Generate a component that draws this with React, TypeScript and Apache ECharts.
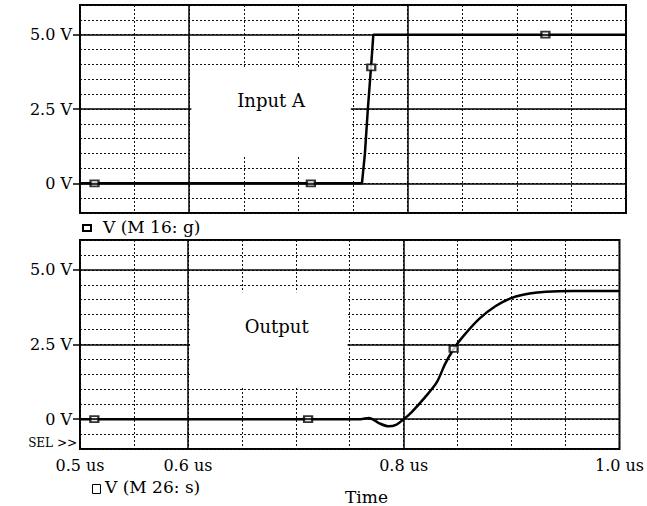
import React, { useEffect, useRef } from 'react';
import * as echarts from 'echarts';

const FONT = '"DejaVu Serif", "Liberation Serif", serif';

// axis tick labels
const xTickLabels = [0.5, 0.6, 0.8, 1.0];
const yTickLabels = [0, 2.5, 5.0];
const solidXLines = [0.6, 0.8];

// Input A trace (time in us, volts)
const inputT = [0.5, 0.7582, 0.7609, 0.7636, 0.7667, 0.7686, 1.0];
const inputV = [0, 0, 1.0, 2.5, 4.0, 5.0, 5.0];
const inputMarkT = [0.5133, 0.7114, 0.7667, 0.9262];
const inputMarkV = [0, 0, 3.9, 5.0];

// Output trace
const outputT = [0.5, 0.76, 0.7678, 0.7769, 0.7859, 0.7934, 0.8, 0.8072, 0.8197, 0.8306, 0.8384, 0.8463, 0.8541, 0.8697, 0.8853, 0.9009, 0.9166, 0.9321, 0.957, 1.0];
const outputV = [0, 0, 0.04, -0.13, -0.24, -0.18, 0, 0.23, 0.73, 1.23, 1.85, 2.35, 2.73, 3.35, 3.79, 4.07, 4.21, 4.27, 4.29, 4.29];
const outputMarkT = [0.5133, 0.7114, 0.8463];
const outputMarkV = [0, 0, 2.35];

// panel captions and their white boxes [t0, v0, t1, v1]
const panelTitles = ['Input A', 'Output'];
const boxInput = [0.602, 0.9, 0.748, 3.9];
const boxOutput = [0.602, 1.05, 0.748, 4.25];
const legendLabels = ['V (M 16: g)', 'V (M 26: s)'];

const zip = (a: number[], b: number[]) => a.map((v, i) => [v, b[i]]);
const near = (arr: number[], v: number) => arr.some((t) => Math.abs(t - v) < 1e-6);

export default function App() {
  const ref = useRef<HTMLDivElement>(null);
  useEffect(() => {
    if (!ref.current) return;
    const chart = echarts.init(ref.current, undefined, { renderer: 'svg' });
    const dotted = { show: true, lineStyle: { color: '#111', width: 1, type: [2, 2] as any } };
    const gridBase = { left: 80, width: 546, show: true, borderColor: '#000', borderWidth: 2, backgroundColor: 'transparent' };
    const xAxis = (gi: number, labels: boolean) => ({
      type: 'value', gridIndex: gi, min: 0.5, max: 1.0, interval: 0.05,
      axisLine: { show: false }, axisTick: { show: false },
      axisLabel: labels
        ? {
            show: true, customValues: xTickLabels, margin: 8, color: '#000', fontFamily: FONT, fontSize: 16,
            formatter: (v: number) => (near(xTickLabels, v) ? v.toFixed(1) + ' us' : ''),
          }
        : { show: false },
      splitLine: dotted,
    });
    // grid-line axis (dotted every 0.5 V)
    const yGridAxis = (gi: number) => ({
      type: 'value', gridIndex: gi, min: -1, max: 6, interval: 0.5, position: 'left',
      axisLine: { show: false }, axisTick: { show: false }, axisLabel: { show: false },
      splitLine: dotted,
    });
    // label axis (ticks and labels at 0, 2.5, 5 V)
    const yLabelAxis = (gi: number) => ({
      type: 'value', gridIndex: gi, min: -1, max: 6, position: 'left', offset: 0,
      axisLine: { show: false },
      axisTick: { show: true, customValues: yTickLabels, length: 7, lineStyle: { color: '#000', width: 1.5 } },
      axisLabel: {
        customValues: yTickLabels, margin: 8, color: '#000', fontFamily: FONT, fontSize: 16,
        formatter: (v: number) => (near(yTickLabels, v) ? (v === 0 ? '0 V' : v.toFixed(1) + ' V') : ''),
      },
      splitLine: { show: false },
    });
    const markLine = {
      silent: true, symbol: ['none', 'none'], label: { show: false },
      lineStyle: { type: 'solid', color: '#000', width: 1.5 },
      emphasis: { disabled: true },
      data: [...yTickLabels.map((v) => ({ yAxis: v })), ...solidXLines.map((v) => ({ xAxis: v }))],
    };
    const boxSeries = (gi: number, box: number[], title: string, fx: number, fy: number) => ({
      type: 'custom', xAxisIndex: gi, yAxisIndex: gi * 2, z: 10, silent: true,
      encode: { x: [0, 2], y: [1, 3] },
      data: [box],
      renderItem: (params: any, api: any) => {
        const p0 = api.coord([api.value(0), api.value(3)]);
        const p1 = api.coord([api.value(2), api.value(1)]);
        const w = p1[0] - p0[0];
        const h = p1[1] - p0[1];
        return {
          type: 'group',
          children: [
            { type: 'rect', shape: { x: p0[0], y: p0[1], width: w, height: h }, style: { fill: '#fff' } },
            {
              type: 'text',
              style: {
                text: title, x: p0[0] + w * fx, y: p0[1] + h * fy, align: 'center', verticalAlign: 'middle',
                fill: '#000', fontFamily: FONT, fontSize: 18,
              },
            },
          ],
        };
      },
    });
    const lineSeries = (gi: number, data: number[][], smooth: any) => ({
      type: 'line', xAxisIndex: gi, yAxisIndex: gi * 2, data, showSymbol: false, symbol: 'none', smooth,
      lineStyle: { color: '#000', width: 2.5 }, z: 3, markLine,
    });
    const markSeries = (gi: number, data: number[][]) => ({
      type: 'scatter', xAxisIndex: gi, yAxisIndex: gi * 2, data, symbol: 'rect', symbolSize: [8, 6], z: 4,
      itemStyle: { color: '#fff', borderColor: '#000', borderWidth: 2 },
    });
    chart.setOption({
      animation: false,
      backgroundColor: '#fff',
      grid: [
        { ...gridBase, top: 5, height: 208 },
        { ...gridBase, top: 240, height: 209 },
      ],
      xAxis: [xAxis(0, false), xAxis(1, true)],
      yAxis: [yGridAxis(0), yLabelAxis(0), yGridAxis(1), yLabelAxis(1)],
      series: [
        lineSeries(0, zip(inputT, inputV), false),
        markSeries(0, zip(inputMarkT, inputMarkV)),
        boxSeries(0, boxInput, panelTitles[0], 0.5, 0.37),
        lineSeries(1, zip(outputT, outputV), 0.3),
        markSeries(1, zip(outputMarkT, outputMarkV)),
        boxSeries(1, boxOutput, panelTitles[1], 0.55, 0.36),
      ],
      graphic: [
        { type: 'rect', left: 82, top: 224, shape: { width: 8, height: 6 }, style: { fill: '#fff', stroke: '#000', lineWidth: 2 } },
        { type: 'text', left: 103, top: 218, style: { text: legendLabels[0], fill: '#000', fontFamily: FONT, fontSize: 17 } },
        { type: 'rect', left: 90, top: 482, shape: { width: 8, height: 9 }, style: { fill: 'none', stroke: '#000', lineWidth: 1 } },
        { type: 'text', left: 105, top: 478, style: { text: legendLabels[1], fill: '#000', fontFamily: FONT, fontSize: 17 } },
        { type: 'text', right: 647 - 77, top: 437, style: { text: 'SEL >>', fill: '#000', fontFamily: FONT, fontSize: 12 } },
        { type: 'text', left: 345, top: 488, style: { text: 'Time', fill: '#000', fontFamily: FONT, fontSize: 17 } },
      ],
    });
    return () => chart.dispose();
  }, []);
  return <div ref={ref} style={{ width: 647, height: 506, position: 'absolute', left: 0, top: 0 }} />;
}
